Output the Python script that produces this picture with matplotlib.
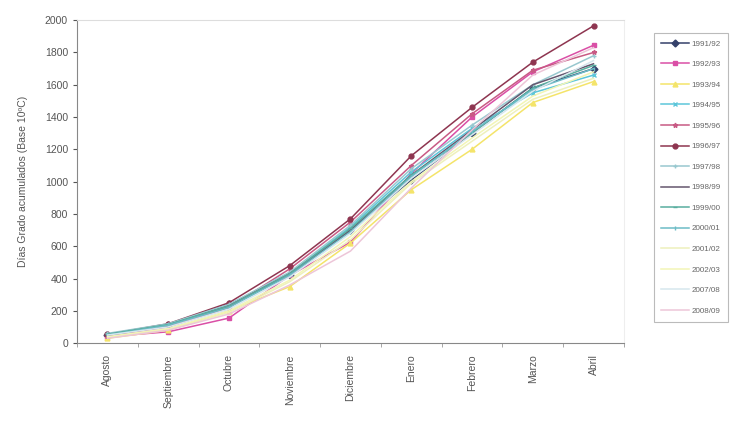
import matplotlib
matplotlib.use('Agg')
import matplotlib.pyplot as plt

plt.rcParams['font.family'] = ['Liberation Sans', 'DejaVu Sans']

months = ['Agosto', 'Septiembre', 'Octubre', 'Noviembre', 'Diciembre',
          'Enero', 'Febrero', 'Marzo', 'Abril']
seasons = ['1991/92', '1992/93', '1993/94', '1994/95', '1995/96', '1996/97', '1997/98',
           '1998/99', '1999/00', '2000/01', '2001/02', '2002/03', '2007/08', '2008/09']

s1991 = [50, 115, 240, 420, 700, 1010, 1300, 1580, 1700]
s1992 = [40, 70, 155, 420, 625, 1050, 1400, 1680, 1845]
s1993 = [30, 80, 200, 350, 620, 950, 1200, 1490, 1620]
s1994 = [55, 110, 230, 430, 720, 1060, 1330, 1550, 1660]
s1995 = [45, 100, 220, 460, 750, 1100, 1420, 1690, 1800]
s1996 = [55, 120, 250, 480, 770, 1160, 1460, 1740, 1965]
s1997 = [60, 120, 240, 440, 730, 1080, 1350, 1600, 1780]
s1998 = [50, 110, 230, 430, 700, 1040, 1320, 1600, 1730]
s1999 = [55, 115, 230, 430, 710, 1040, 1300, 1580, 1720]
s2000 = [50, 110, 220, 420, 690, 1030, 1310, 1570, 1700]
s2001 = [35, 85, 190, 380, 640, 990, 1250, 1510, 1640]
s2002 = [40, 90, 200, 390, 660, 1000, 1270, 1530, 1680]
s2007 = [50, 100, 210, 410, 680, 1020, 1290, 1560, 1750]
s2008 = [30, 80, 180, 360, 570, 960, 1320, 1660, 1830]

series = [s1991, s1992, s1993, s1994, s1995, s1996, s1997,
          s1998, s1999, s2000, s2001, s2002, s2007, s2008]

# line colour, marker
styles = [
    ('#34406a', 'D'),
    ('#da4fa6', 's'),
    ('#f4e46a', '^'),
    ('#5cc6da', 'x'),
    ('#c85a84', '*'),
    ('#8e3550', 'o'),
    ('#98c8cf', '+'),
    ('#65566e', ''),
    ('#58ae9f', '_'),
    ('#6cbcc6', '|'),
    ('#eef0bc', ''),
    ('#f2f5b6', ''),
    ('#d6e7ee', ''),
    ('#edc6d8', ''),
]

fig = plt.figure(figsize=(7.34, 4.21), dpi=100)
ax = fig.add_axes([0.105, 0.185, 0.745, 0.767])

x = list(range(len(months)))
for name, vals, (col, mk) in zip(seasons, series, styles):
    ax.plot(x, vals, color=col, marker=mk if mk else None, markersize=3.5,
            linewidth=1.1, label=name)

ax.set_xlim(-0.5, 8.5)
ax.set_ylim(0, 2000)
ax.set_yticks(range(0, 2001, 200))
ax.set_xticks(x)
ax.set_xticklabels(months, rotation=90, fontsize=7.5, color='#555555')
ax.set_xticks([i + 0.5 for i in range(-1, 9)], minor=True)
ax.tick_params(axis='x', which='major', length=0, pad=8)
ax.tick_params(axis='x', which='minor', length=3, color='#999999', direction='out')
ax.tick_params(axis='y', labelsize=7.5, colors='#555555', length=3, direction='out')

ax.spines['left'].set_color('#888888')
ax.spines['bottom'].set_color('#888888')
ax.spines['top'].set_color('#dddddd')
ax.spines['right'].set_color('#eeeeee')

ax.set_ylabel('Días Grado acumulados (Base 10ºC)', fontsize=7.5, color='#555555', labelpad=12)

leg = fig.legend(loc='upper left', bbox_to_anchor=(0.891, 0.922), fontsize=5.8,
                 handlelength=3.4, labelspacing=1.6, frameon=True, fancybox=False,
                 borderpad=0.9, handletextpad=0.4, borderaxespad=0.0)
leg.get_frame().set_edgecolor('#aaaaaa')
leg.get_frame().set_linewidth(0.8)
for t in leg.get_texts():
    t.set_color('#666666')

fig.savefig('out.png', dpi=100)
